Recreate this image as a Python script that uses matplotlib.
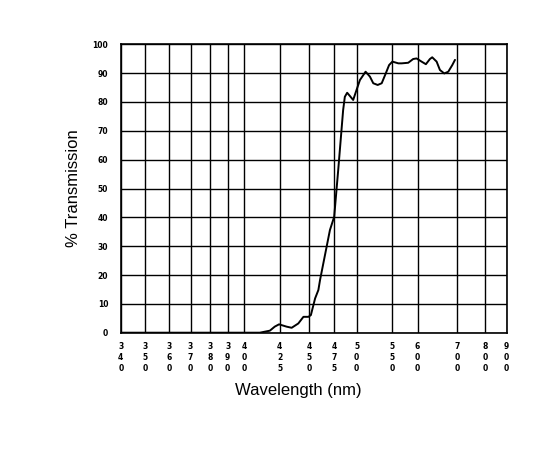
import numpy as np
import matplotlib
matplotlib.use("Agg")
import matplotlib.pyplot as plt

# tick wavelengths of the printed chart and where they sit along the axis (0..1)
tick_nm = [340, 350, 360, 370, 380, 390, 400, 425, 450, 475, 500, 550, 600, 700, 800, 900]
tick_frac = [0.000, 0.063, 0.125, 0.181, 0.231, 0.277, 0.319, 0.412, 0.489,
             0.553, 0.611, 0.703, 0.769, 0.872, 0.944, 1.000]

# transmission curve
wavelength = [340, 400, 411.1, 418.1, 421.5, 424.5, 430.7, 435.0, 440.6, 444.9,
              449.1, 451.4, 455.7, 459.0, 460.7, 470.7, 475.0, 479.5, 485.0, 486.9,
              489.5, 492.5, 496.2, 500.0, 504.7, 512.7, 518.8, 523.5, 529.7, 535.4,
              541.1, 545.8, 550.6, 562.3, 568.9, 581.7, 591.4, 598.1, 610.1, 621.0,
              631.1, 636.9, 648.0, 656.3, 667.2, 677.3, 687.4, 694.2]
transmission = [0, 0, 0, 0.7, 2.1, 2.9, 2.1, 1.7, 3.2, 5.5,
                5.5, 6.1, 11.9, 14.8, 18.3, 35.6, 40.2, 56.4, 77.2, 81.8,
                83.2, 82.1, 80.7, 84.2, 87.6, 90.5, 88.8, 86.5, 85.9, 86.5,
                89.9, 92.8, 94.0, 93.4, 93.4, 93.6, 94.9, 95.1, 94.0, 93.1,
                94.9, 95.5, 94.0, 91.1, 89.9, 90.5, 92.8, 94.6]

yticks = list(range(0, 101, 10))


def fwd(x):
    return np.interp(x, tick_nm, tick_frac)


def inv(x):
    return np.interp(x, tick_frac, tick_nm)


fig = plt.figure(figsize=(5.54, 4.54), dpi=100)
ax = fig.add_axes([0.218, 0.2672, 0.6966, 0.6352])
ax.set_xscale('function', functions=(fwd, inv))
ax.set_xlim(340, 900)
ax.set_ylim(0, 100)

ax.plot(wavelength, transmission, color='black', lw=1.4,
        solid_joinstyle='round', solid_capstyle='round')

ax.set_xticks(tick_nm)
ax.set_xticklabels(['\n'.join(str(t)) for t in tick_nm], fontsize=5.5,
                   family='DejaVu Sans', fontweight='bold', linespacing=1.25)
ax.xaxis.set_minor_locator(matplotlib.ticker.NullLocator())
ax.set_yticks(yticks)
ax.set_yticklabels([str(t) for t in yticks], fontsize=5.5, family='DejaVu Sans',
                   fontweight='bold')
ax.tick_params(axis='x', length=0, pad=7)
ax.tick_params(axis='y', length=0, pad=9)

ax.grid(True, color='black', lw=1.0)
for s in ax.spines.values():
    s.set_linewidth(1.2)

ax.set_xlabel('Wavelength (nm)', fontsize=12, family='Liberation Sans')
ax.xaxis.set_label_coords(0.459, -0.199)
ax.set_ylabel('% Transmission', fontsize=12, family='Liberation Sans')
ax.yaxis.set_label_coords(-0.122, 0.5)
ax.xaxis.label.set_va('center')
ax.yaxis.label.set_va('center')

fig.savefig('out.png', dpi=100)
